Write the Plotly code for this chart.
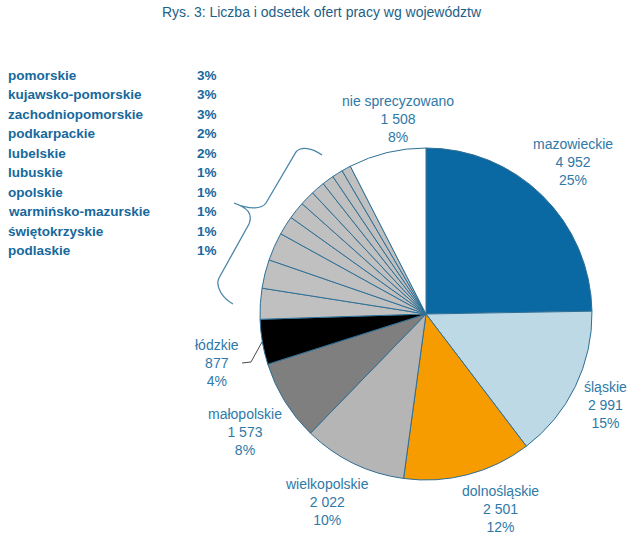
import plotly.graph_objects as go

# ---- data ----
regions = ["mazowieckie", "śląskie", "dolnośląskie", "wielkopolskie", "małopolskie", "łódzkie",
           "pomorskie", "kujawsko-pomorskie", "zachodniopomorskie", "podkarpackie", "lubelskie",
           "lubuskie", "opolskie", "warmińsko-mazurskie", "świętokrzyskie", "podlaskie",
           "nie sprecyzowano"]
offers = [4952, 2991, 2501, 2022, 1573, 877,
          600, 560, 550, 370, 340, 290, 270, 230, 210, 180,
          1508]
labelled = ["mazowieckie", "śląskie", "dolnośląskie", "wielkopolskie", "małopolskie", "łódzkie",
            "nie sprecyzowano"]
listed = ["pomorskie", "kujawsko-pomorskie", "zachodniopomorskie", "podkarpackie", "lubelskie",
          "lubuskie", "opolskie", "warmińsko-mazurskie", "świętokrzyskie", "podlaskie"]
title_text = "Rys. 3: Liczba i odsetek ofert pracy wg województw"

# ---- styles ----
W, H = 640, 534
colors = {"mazowieckie": "#0a68a3", "śląskie": "#bdd9e6", "dolnośląskie": "#f79c00",
          "wielkopolskie": "#b5b5b5", "małopolskie": "#7f7f7f", "łódzkie": "#000000",
          "nie sprecyzowano": "#ffffff"}
small_color = "#c0c0c0"
label_color = "#2f79a7"
list_color = "#17689c"
font_family = "Liberation Sans, Arial, sans-serif"

# label centre positions (pixels)
label_pos = {"nie sprecyzowano": (398, 119), "mazowieckie": (573, 162), "śląskie": (605, 405),
             "dolnośląskie": (500, 509), "wielkopolskie": (327, 502), "małopolskie": (245, 432),
             "łódzkie": (217, 363)}

total = sum(offers)
val = dict(zip(regions, offers))

def fmt(n):
    return f"{n:,}".replace(",", " ")

# pie geometry (pixels)
cx, cy, r = 426, 314, 166

fig = go.Figure()
fig.add_trace(go.Pie(
    labels=regions, values=offers, sort=False, direction="clockwise", rotation=0,
    marker=dict(colors=[colors.get(n, small_color) for n in regions],
                line=dict(color="#2f6f95", width=1)),
    textinfo="none", hoverinfo="label+value+percent", showlegend=False,
    domain=dict(x=[(cx - r) / W, (cx + r) / W], y=[1 - (cy + r) / H, 1 - (cy - r) / H]),
))

# pie labels
for name in labelled:
    x, y = label_pos[name]
    pct = round(val[name] / total * 100)
    fig.add_annotation(x=x, y=y, xref="x", yref="y", showarrow=False,
                       text=f"{name}<br>{fmt(val[name])}<br>{pct}%",
                       font=dict(family=font_family, size=14, color=label_color),
                       align="center", xanchor="center", yanchor="middle")

# list on the left
for i, name in enumerate(listed):
    y = 75 + i * 19.5
    pct = round(val[name] / total * 100)
    fig.add_annotation(x=6, y=y, xref="x", yref="y", showarrow=False, text=f"<b>{name}</b>",
                       font=dict(family=font_family, size=13.5, color=list_color),
                       xanchor="left", yanchor="middle")
    fig.add_annotation(x=219, y=y, xref="x", yref="y", showarrow=False, text=f"<b>{pct}%</b>",
                       font=dict(family=font_family, size=13.5, color=list_color),
                       xanchor="right", yanchor="middle")

# title
fig.add_annotation(x=322, y=12, xref="x", yref="y", showarrow=False, text=title_text,
                   font=dict(family=font_family, size=14, color="#1d5f86"),
                   xanchor="center", yanchor="middle")

# brace
fig.add_shape(type="path", xref="x", yref="y",
              path="M 322,155 C 312,148 301,146 296,152 L 266,203 C 262,209 250,210 234,203 "
                   "C 248,208 253,214 249,224 L 219,278 C 215,286 222,298 233,304",
              line=dict(color="#4a86a8", width=1.3))
# leader line for łódzkie
fig.add_shape(type="path", xref="x", yref="y",
              path="M 242,363 L 251,362 L 262,342",
              line=dict(color="#4a4a4a", width=1))

fig.update_layout(
    width=W, height=H, margin=dict(l=0, r=0, t=0, b=0),
    paper_bgcolor="white", plot_bgcolor="rgba(0,0,0,0)",
    xaxis=dict(range=[0, W], visible=False, fixedrange=True),
    yaxis=dict(range=[H, 0], visible=False, fixedrange=True),
)

fig.write_html("out.html", config={"displayModeBar": False},
               post_script="document.body.style.margin='0';document.body.style.overflow='hidden';")
